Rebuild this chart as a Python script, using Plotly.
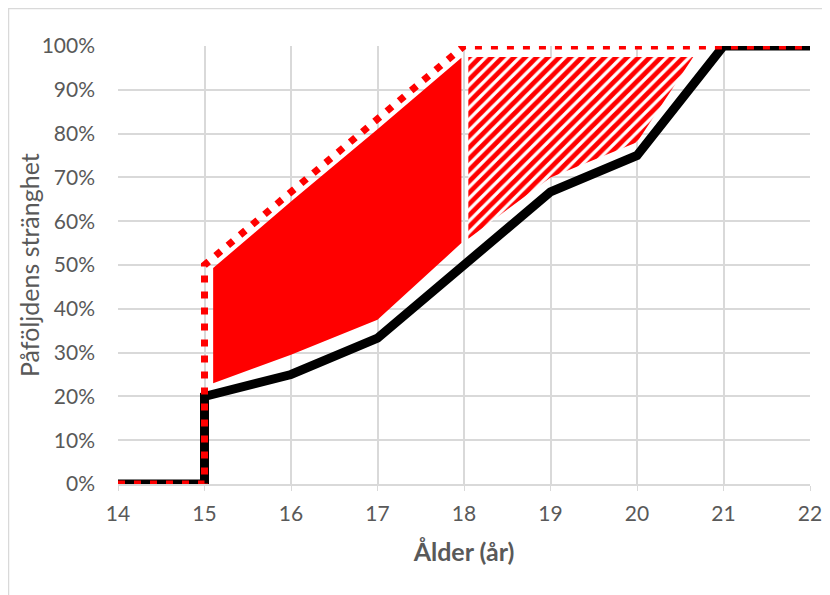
import plotly.graph_objects as go

# Data
age_black = [14, 15, 15, 16, 17, 18, 19, 20, 21, 22]
sev_black = [0, 0, 20, 25, 33.3, 50, 66.7, 75, 100, 100]

age_red = [14, 15, 15, 18, 22]
sev_red = [0, 0, 50, 100, 100]

solid_x = [15.1, 16, 17, 17.97, 17.97, 17, 16, 15.1, 15.1]
solid_y = [23, 29.5, 37.5, 55, 97.3, 81, 64.5, 49.3, 23]

hatch_x = [18.05, 19.0, 20.0, 20.65, 18.05, 18.05]
hatch_y = [56, 70, 78, 97.5, 97.5, 56]

x_ticks = list(range(14, 23))
y_ticks = list(range(0, 101, 10))
y_ticklabels = [f"{v}%" for v in y_ticks]

FONT = "Lato, 'Noto Sans', sans-serif"
GRAY = "#595959"

fig = go.Figure()
fig.add_trace(go.Scatter(x=solid_x, y=solid_y, mode="lines", fill="toself",
                         fillcolor="#ff0000", line=dict(width=0, color="#ff0000"),
                         hoverinfo="skip", showlegend=False))
fig.add_trace(go.Scatter(x=hatch_x, y=hatch_y, mode="lines", fill="toself",
                         fillcolor="#ff0000",
                         fillpattern=dict(shape="/", fgcolor="#ff0000", bgcolor="white",
                                          fgopacity=1, fillmode="replace",
                                          size=8, solidity=0.6),
                         line=dict(width=0, color="rgba(0,0,0,0)"),
                         hoverinfo="skip", showlegend=False))
fig.add_trace(go.Scatter(x=age_black, y=sev_black, mode="lines",
                         line=dict(color="black", width=9),
                         showlegend=False))
fig.add_trace(go.Scatter(x=age_red, y=sev_red, mode="lines",
                         line=dict(color="#ff0000", width=7, dash="7px,9px"),
                         showlegend=False))

# page body has an 8px offset; figure is sized to fit the 830x595 window
W, H = 822, 587
ml, mr, mt, mb = 110, 20, 38, 111
pw, ph = W - ml - mr, H - mt - mb

fig.update_layout(
    width=W, height=H,
    margin=dict(l=ml, r=mr, t=mt, b=mb),
    paper_bgcolor="white", plot_bgcolor="white",
    font=dict(family=FONT, color=GRAY, size=21),
    xaxis=dict(range=[14, 22], tickvals=x_ticks, showgrid=True, gridcolor="#d9d9d9",
               gridwidth=1.5, zeroline=False, showline=True, linecolor="#d9d9d9",
               linewidth=1.5, ticks="outside", ticklen=5, tickcolor="#d9d9d9",
               ticklabelstandoff=5, automargin=False,
               title=dict(text="<b>Ålder (år)</b>", font=dict(size=25, color=GRAY),
                          standoff=20)),
    yaxis=dict(range=[0, 100], tickvals=y_ticks, ticktext=y_ticklabels, showgrid=True,
               gridcolor="#d9d9d9", gridwidth=1.5, zeroline=False, showline=False,
               ticklabelstandoff=22, automargin=False),
    annotations=[dict(text="Påföljdens stränghet", textangle=-90, showarrow=False,
                      xref="paper", yref="paper", x=(21 - ml) / pw, y=0.5,
                      xanchor="center", yanchor="middle",
                      font=dict(size=25, color=GRAY, family=FONT))],
    shapes=[dict(type="rect", xref="paper", yref="paper",
                 x0=(0.5 - ml) / pw, x1=(W + 5 - ml) / pw,
                 y0=(H - mb - (H + 5)) / ph, y1=(H - mb - 0.5) / ph,
                 line=dict(color="#d9d9d9", width=1.5), layer="below")],
)

fig.write_html("out.html")
